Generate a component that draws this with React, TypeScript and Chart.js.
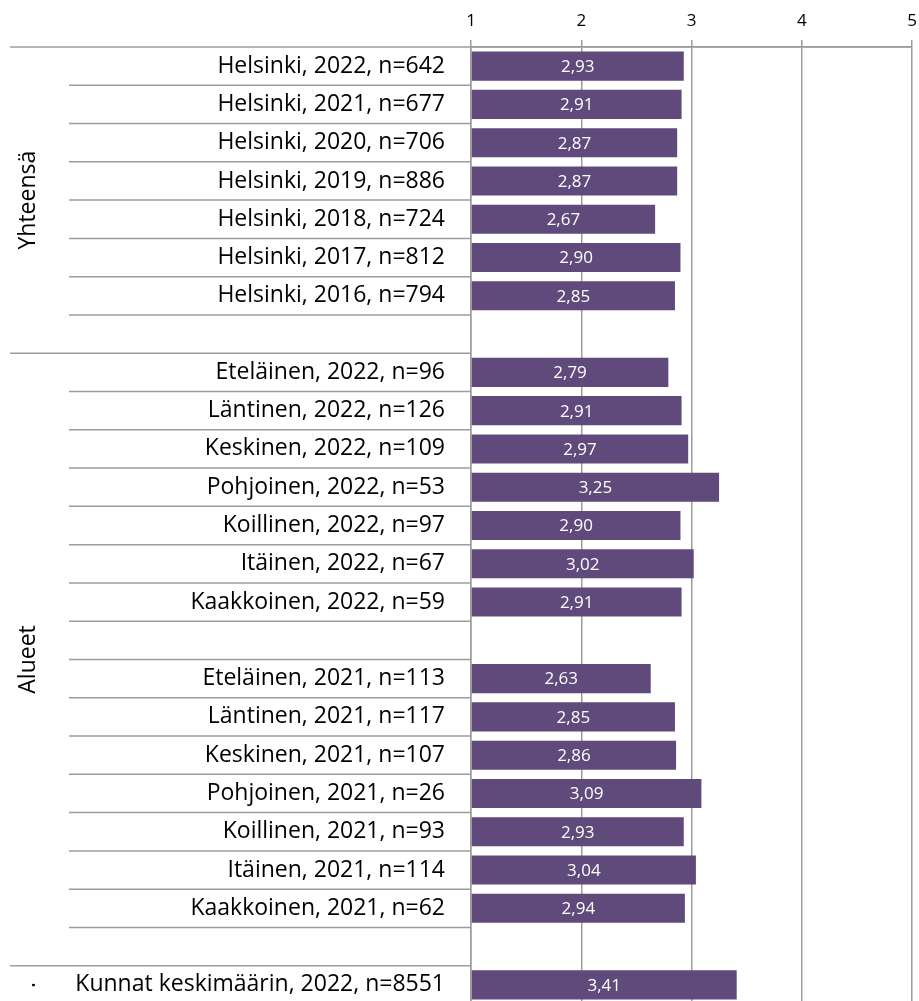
import React, { useEffect, useRef } from 'react';
import { Chart, registerables } from 'chart.js';

Chart.register(...registerables);

const categories: string[] = [
  'Helsinki, 2022, n=642',
  'Helsinki, 2021, n=677',
  'Helsinki, 2020, n=706',
  'Helsinki, 2019, n=886',
  'Helsinki, 2018, n=724',
  'Helsinki, 2017, n=812',
  'Helsinki, 2016, n=794',
  '',
  'Eteläinen, 2022, n=96',
  'Läntinen, 2022, n=126',
  'Keskinen, 2022, n=109',
  'Pohjoinen, 2022, n=53',
  'Koillinen, 2022, n=97',
  'Itäinen, 2022, n=67',
  'Kaakkoinen, 2022, n=59',
  ' ',
  'Eteläinen, 2021, n=113',
  'Läntinen, 2021, n=117',
  'Keskinen, 2021, n=107',
  'Pohjoinen, 2021, n=26',
  'Koillinen, 2021, n=93',
  'Itäinen, 2021, n=114',
  'Kaakkoinen, 2021, n=62',
  '  ',
  'Kunnat keskimäärin, 2022, n=8551',
];

const values: (number | null)[] = [
  2.93, 2.91, 2.87, 2.87, 2.67, 2.90, 2.85, null,
  2.79, 2.91, 2.97, 3.25, 2.90, 3.02, 2.91, null,
  2.63, 2.85, 2.86, 3.09, 2.93, 3.04, 2.94, null,
  3.41,
];

const groupLabels: string[] = ['Yhteensä', 'Alueet', '.'];
const groupSizes: number[] = [8, 16, 1];

const xMin = 1;
const xMax = 5;
const xStep = 1;

const FONT = '"Open Sans", "DejaVu Sans", sans-serif';
const LINE = '#9c9c9c';
const BAR = '#604A7B';

const decorPlugin = {
  id: 'decor',
  afterDraw(chart: any) {
    const { ctx, chartArea, scales } = chart;
    const y = scales.y;
    const n = categories.length;
    const top = chartArea.top;
    const left = chartArea.left;
    ctx.save();
    ctx.strokeStyle = LINE;
    ctx.lineWidth = 1.5;
    // top axis line extended to the left
    ctx.beginPath();
    ctx.moveTo(10, top);
    ctx.lineTo(chartArea.right, top);
    ctx.stroke();
    // row and group boundaries
    const ends: number[] = [];
    let acc = 0;
    groupSizes.forEach((s) => {
      acc += s;
      ends.push(acc);
    });
    for (let i = 1; i < n; i++) {
      const yy = (y.getPixelForValue(i - 1) + y.getPixelForValue(i)) / 2;
      const x0 = ends.includes(i) ? 10 : 69;
      ctx.beginPath();
      ctx.moveTo(x0, yy);
      ctx.lineTo(left, yy);
      ctx.stroke();
    }
    // group labels
    ctx.fillStyle = '#000';
    ctx.font = `23px ${FONT}`;
    ctx.textAlign = 'center';
    ctx.textBaseline = 'middle';
    const rowH = Math.abs(y.getPixelForValue(1) - y.getPixelForValue(0));
    let start = 0;
    groupSizes.forEach((s, gi) => {
      const cy = top + (start + s / 2) * rowH;
      ctx.save();
      ctx.translate(28, cy);
      ctx.rotate(-Math.PI / 2);
      ctx.fillText(groupLabels[gi], 0, 0);
      ctx.restore();
      start += s;
    });
    ctx.restore();
  },
  afterDatasetsDraw(chart: any) {
    const { ctx, chartArea } = chart;
    const meta = chart.getDatasetMeta(0);
    ctx.save();
    ctx.fillStyle = '#ffffff';
    ctx.font = `17px ${FONT}`;
    ctx.textAlign = 'center';
    ctx.textBaseline = 'middle';
    meta.data.forEach((bar: any, i: number) => {
      const v = values[i];
      if (v == null) return;
      const b = Math.max(bar.base, chartArea.left);
      const cx = (bar.x + b) / 2;
      ctx.fillText(v.toFixed(2).replace('.', ','), cx, bar.y + 1);
    });
    ctx.restore();
  },
};

export default function App() {
  const ref = useRef<HTMLCanvasElement | null>(null);

  useEffect(() => {
    if (!ref.current) return;
    const chart = new Chart(ref.current, {
      type: 'bar',
      data: {
        labels: categories,
        datasets: [
          {
            data: values as any,
            backgroundColor: BAR,
            borderWidth: 0,
            base: xMin,
            barPercentage: 0.76,
            categoryPercentage: 1,
          } as any,
        ],
      },
      options: {
        indexAxis: 'y',
        responsive: false,
        animation: false,
        layout: { padding: { left: 0, right: 7, top: 0, bottom: 0 } },
        plugins: {
          legend: { display: false },
          tooltip: { enabled: false },
        },
        scales: {
          x: {
            position: 'top',
            min: xMin,
            max: xMax,
            ticks: {
              stepSize: xStep,
              color: '#000',
              font: { family: FONT, size: 17 },
              padding: 9,
            },
            grid: {
              color: LINE,
              lineWidth: 1.5,
              drawTicks: true,
              tickLength: 7,
              tickColor: LINE,
            },
            border: { display: true, color: LINE, width: 1.5 },
            afterFit(scale: any) {
              scale.height = 47;
              scale.paddingLeft = 0;
              scale.paddingRight = 0;
            },
          },
          y: {
            ticks: {
              color: '#000',
              font: { family: FONT, size: 23 },
              padding: 26,
              autoSkip: false,
            },
            grid: { display: false, drawTicks: false },
            border: { display: true, color: LINE, width: 1.5 },
            afterFit(scale: any) {
              scale.width = 471;
              scale.paddingTop = 0;
              scale.paddingBottom = 0;
            },
          },
        },
      },
      plugins: [decorPlugin],
    });
    return () => chart.destroy();
  }, []);

  return (
    <div
      style={{
        position: 'fixed',
        left: 0,
        top: 0,
        width: 919,
        height: 1001,
        overflow: 'hidden',
        background: '#fff',
      }}
    >
      <canvas ref={ref} width={919} height={1004} style={{ width: 919, height: 1004, display: 'block' }} />
    </div>
  );
}
